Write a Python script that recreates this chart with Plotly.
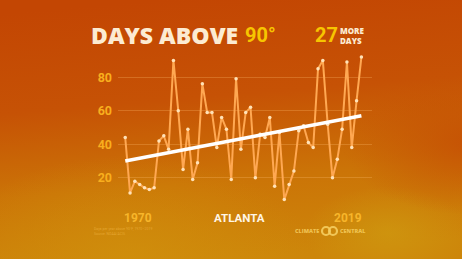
import base64
import plotly.graph_objects as go

years = list(range(1970, 2020))
days = [44, 11, 18, 16, 14, 13, 14, 42, 45, 37,
        90, 60, 25, 49, 19, 29, 76, 59, 59, 38,
        56, 49, 19, 79, 37, 59, 62, 20, 46, 44,
        56, 15, 47, 7, 16, 24, 48, 51, 41, 38,
        85, 90, 52, 20, 31, 49, 89, 38, 66, 92]
trend_years = [1970, 2019]
trend_days = [30, 57]
y_ticks = [20, 40, 60, 80]

W, H = 462, 259
L, R, T, B = 118, 90, 52, 51
PW, PH = W - L - R, H - T - B

def px(x):
    return (x - L) / PW

def py(y):
    return (H - B - y) / PH

svg = f'''<svg xmlns="http://www.w3.org/2000/svg" width="{W}" height="{H}" viewBox="0 0 {W} {H}" preserveAspectRatio="none">
<defs>
<linearGradient id="g" x1="0.35" y1="0" x2="0.5" y2="1">
<stop offset="0" stop-color="#C34603"/>
<stop offset="0.38" stop-color="#C65205"/>
<stop offset="0.7" stop-color="#CB7407"/>
<stop offset="1" stop-color="#CD860A"/>
</linearGradient>
<radialGradient id="r1" cx="0.28" cy="1.0" r="0.4">
<stop offset="0" stop-color="#D0900C" stop-opacity="0.8"/>
<stop offset="1" stop-color="#D0900C" stop-opacity="0"/>
</radialGradient>
<radialGradient id="r2" cx="0.84" cy="0.9" r="0.18">
<stop offset="0" stop-color="#CF9A10" stop-opacity="0.7"/>
<stop offset="1" stop-color="#CF9A10" stop-opacity="0"/>
</radialGradient>
<radialGradient id="r3" cx="1.02" cy="0.55" r="0.28">
<stop offset="0" stop-color="#C65004" stop-opacity="0.9"/>
<stop offset="1" stop-color="#C65004" stop-opacity="0"/>
</radialGradient>
</defs>
<rect width="{W}" height="{H}" fill="url(#g)"/>
<rect width="{W}" height="{H}" fill="url(#r1)"/>
<rect width="{W}" height="{H}" fill="url(#r2)"/>
<rect width="{W}" height="{H}" fill="url(#r3)"/>
</svg>'''
bg_src = "data:image/svg+xml;base64," + base64.b64encode(svg.encode()).decode()

COND = "Roboto"
CREAM = "#FCEBD2"
YEL = "#F7C500"
TICK = "#F8AE1E"

fig = go.Figure()
fig.add_trace(go.Scatter(
    x=years, y=days, mode="lines+markers",
    line=dict(color="#FFA852", width=2),
    marker=dict(color="#FFE2B8", size=3.5),
    hoverinfo="skip", showlegend=False))
fig.add_trace(go.Scatter(
    x=trend_years, y=trend_days, mode="lines",
    line=dict(color="#FFFFFF", width=3.5),
    hoverinfo="skip", showlegend=False))

ann = []
def A(text, x, y, size, color, family, xanchor="left", yanchor="middle", weight=None, align="left"):
    f = dict(size=size, color=color, family=family)
    if weight:
        f["weight"] = weight
    ann.append(dict(text=text, x=px(x), y=py(y), xref="paper", yref="paper",
                    xanchor=xanchor, yanchor=yanchor, showarrow=False, font=f,
                    align=align, borderpad=0))

A("DAYS ABOVE", 90, 35.5, 23, CREAM, "Open Sans", weight=800)
A("90°", 244, 35.5, 20, YEL, COND, weight=700)
A("27", 339, 35.5, 20, YEL, COND, xanchor="right", weight=700)
A("MORE<br>DAYS", 339, 35.5, 8, CREAM, "Open Sans", weight=800)
A("1970", 123, 218, 12, "#F7B52A", COND, weight=700)
A("ATLANTA", 239, 218, 11.5, "#FFF6E6", COND, xanchor="center", weight=700)
A("2019", 363, 218, 12, "#F7B52A", COND, xanchor="right", weight=700)
A("Days per year above 90°F, 1970–2019<br>Source: NOAA/ACIS", 93, 231, 3.5,
  "rgba(245,190,80,0.6)", "Roboto")
A("CLIMATE", 320, 231, 5.5, "rgba(245,205,95,0.85)", "Open Sans", xanchor="right", weight=800)
A("CENTRAL", 339, 231, 5.5, "rgba(245,205,95,0.85)", "Open Sans", xanchor="left", weight=800)

shapes = [
    dict(type="circle", xref="paper", yref="paper", x0=px(322), x1=px(330), y0=py(235), y1=py(227),
         line=dict(color="rgba(245,205,95,0.9)", width=2.2)),
    dict(type="circle", xref="paper", yref="paper", x0=px(329), x1=px(337), y0=py(235), y1=py(227),
         line=dict(color="rgba(245,205,95,0.9)", width=2.2)),
]

fig.update_layout(
    width=W, height=H, autosize=False,
    margin=dict(l=L, r=R, t=T, b=B, pad=0),
    paper_bgcolor="#C8600A", plot_bgcolor="rgba(0,0,0,0)",
    images=[dict(source=bg_src, xref="paper", yref="paper",
                 x=px(0), y=py(0), sizex=W / PW, sizey=H / PH,
                 xanchor="left", yanchor="top", sizing="stretch", layer="below")],
    xaxis=dict(range=[1968.5, 2021.2], showgrid=False, zeroline=False,
               showticklabels=False, ticks="", showline=False),
    yaxis=dict(range=[2, 95], tickvals=y_ticks, showgrid=True,
               gridcolor="rgba(255,190,110,0.28)", gridwidth=1, zeroline=False,
               ticks="", showline=False, ticklabelstandoff=5,
               tickfont=dict(size=12.5, color=TICK, family=COND, weight=700)),
    annotations=ann, shapes=shapes,
)
fig.write_html("out.html")
